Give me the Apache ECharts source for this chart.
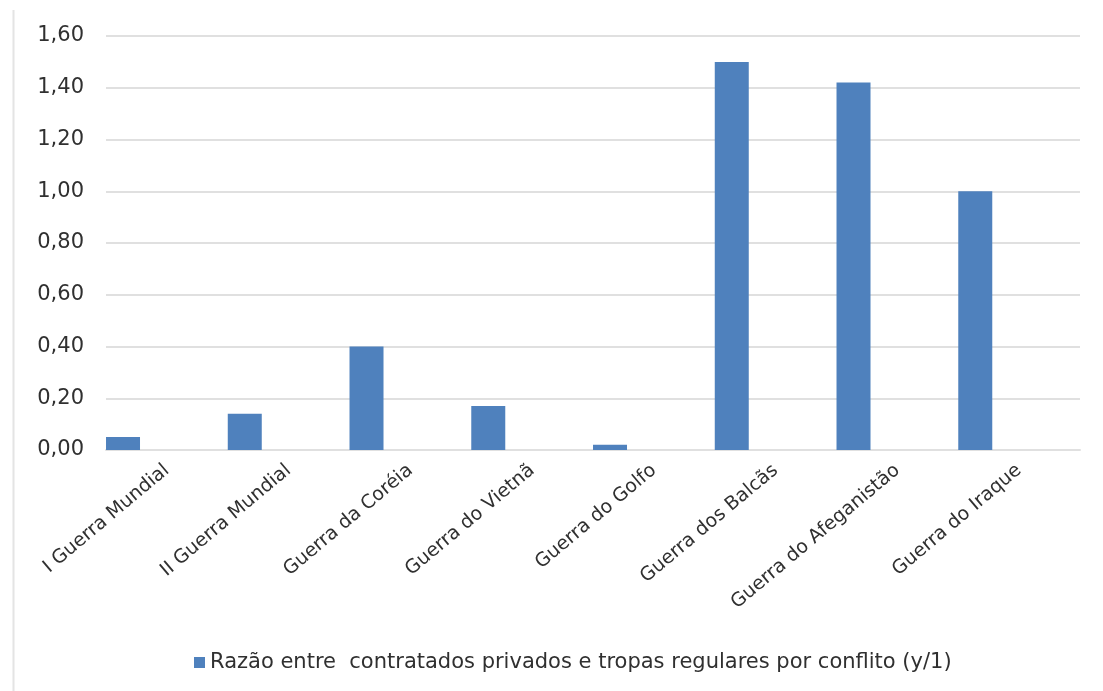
<!DOCTYPE html>
<html>
<head>
<meta charset="utf-8">
<style>
html,body{margin:0;padding:0;background:#fff;}
#chart{width:1103px;height:691px;}
</style>
<script src="https://cdn.jsdelivr.net/npm/echarts@6/dist/echarts.min.js"></script>
</head>
<body>
<div id="chart"></div>
<script>
const categories = ["I Guerra Mundial", "II Guerra Mundial", "Guerra da Coréia", "Guerra do Vietnã", "Guerra do Golfo", "Guerra dos Balcãs", "Guerra do Afeganistão", "Guerra do Iraque"];
const seriesName = "Razão entre  contratados privados e tropas regulares por conflito (y/1)";
const ratios = [0.05, 0.14, 0.40, 0.17, 0.02, 1.50, 1.42, 1.00];
const emptySeries = [null, null, null, null, null, null, null, null];

const chart = echarts.init(document.getElementById('chart'), null, {renderer: 'canvas'});
const font = '"DejaVu Sans", "Liberation Sans", Arial, sans-serif';
chart.setOption({
  animation: false,
  backgroundColor: '#ffffff',
  textStyle: {fontFamily: font},
  graphic: [{
    type: 'line', shape: {x1: 13.5, y1: 10, x2: 13.5, y2: 691},
    style: {stroke: '#e4e4e4', lineWidth: 2}, silent: true
  }],
  grid: {left: 106, right: 23, top: 36, bottom: 241, containLabel: false},
  legend: {
    data: [seriesName],
    top: 647, left: 189,
    itemWidth: 11, itemHeight: 11, itemGap: 5,
    icon: 'rect',
    textStyle: {fontSize: 21, color: '#303030', fontFamily: font}
  },
  xAxis: {
    type: 'category', data: categories,
    axisLine: {lineStyle: {color: '#e0e0e0', width: 2}},
    axisTick: {show: false},
    axisLabel: {rotate: 40, fontSize: 19, color: '#303030', margin: 18, interval: 0, fontFamily: font}
  },
  yAxis: {
    type: 'value', min: 0, max: 1.6, interval: 0.2,
    axisLine: {show: false}, axisTick: {show: false},
    splitLine: {lineStyle: {color: '#e0e0e0', width: 2}},
    axisLabel: {fontSize: 21, color: '#303030', margin: 22, fontFamily: font,
      formatter: v => v.toFixed(2).replace('.', ',')}
  },
  series: [
    {name: seriesName, type: 'bar', data: ratios, barWidth: 34, barGap: '158%',
     itemStyle: {color: '#4f81bd'}},
    {name: 'vazio', type: 'bar', data: emptySeries, barWidth: 34}
  ]
});
</script>
</body>
</html>
